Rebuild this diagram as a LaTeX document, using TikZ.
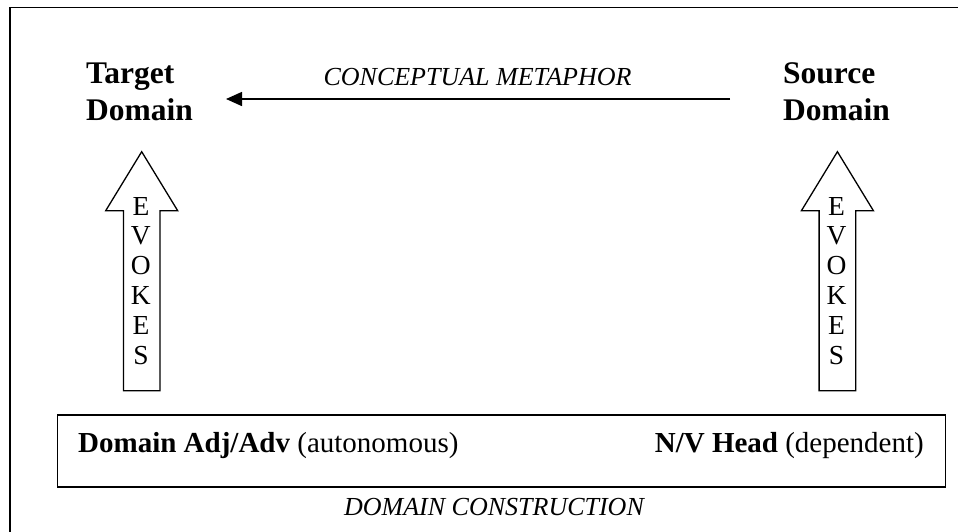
\documentclass[tikz,border=0pt]{standalone}
\usepackage{fontspec}
\setmainfont{Liberation Serif}
\usetikzlibrary{arrows.meta}
\tikzset{
  frame/.style={line width=1.6pt},
  heading/.style={font=\fontsize{31.5}{37}\selectfont\bfseries, inner sep=0pt, align=left},
  caption/.style={font=\fontsize{26}{30}\selectfont\itshape, inner sep=0pt},
  body/.style={font=\fontsize{29}{34}\selectfont, inner sep=0pt},
  letter/.style={font=\fontsize{27.5}{30}\selectfont, inner sep=0pt, anchor=base},
  hollow/.style={draw, line width=1.3pt, fill=white, line join=miter},
  mapping/.style={line width=1.5pt, -{Triangle[length=16pt,width=14pt]}},
}
\begin{document}
\begin{tikzpicture}[x=1pt, y=-1pt]
\useasboundingbox (0,0) rectangle (958,531);
\fill[white] (0,0) rectangle (958,531);

% outer frame (runs off the right and bottom edges)
\draw[frame] (970,7.5) -- (10,7.5) -- (10,545);

% the two domains (base anchor sits on the last line)
\node[heading, anchor=base west] (tgt) at (86,120) {Target\\Domain};
\node[heading, anchor=base west] (src) at (783,120) {Source\\Domain};

% conceptual metaphor: source to target
\coordinate (cmR) at (730,99);
\coordinate (cmL) at (226,99);
\draw[mapping] (cmR) -- (cmL);
\node[caption, anchor=base] (cm) at (477.5,85) {CONCEPTUAL METAPHOR};

% construction box
\node[draw, line width=1.5pt, minimum width=888pt, minimum height=72pt, inner sep=0pt] (dc) at (501.5,451.2) {};
\node[body, anchor=base west] (adj) at (78,452.7) {\textbf{Domain Adj/Adv} (autonomous)};
\node[body, anchor=base east] (head) at (924,452.7) {\textbf{N/V Head} (dependent)};
\node[caption, anchor=base] (dcl) at (494,515.5) {DOMAIN CONSTRUCTION};

% hollow "evokes" arrows
\foreach \cx/\nm in {141.7/L, 837.4/R} {
  \draw[hollow] (\cx,151.7) -- (\cx+36,210.7) -- (\cx+18.3,210.7) -- (\cx+18.3,390.7)
     -- (\cx-18.3,390.7) -- (\cx-18.3,210.7) -- (\cx-36,210.7) -- cycle;
  \foreach \ch [count=\i from 0] in {E,V,O,K,E,S}
    \node[letter] (ev\nm\i) at (\cx-0.8,215+29.8*\i) {\ch};
}
\end{tikzpicture}
\end{document}
